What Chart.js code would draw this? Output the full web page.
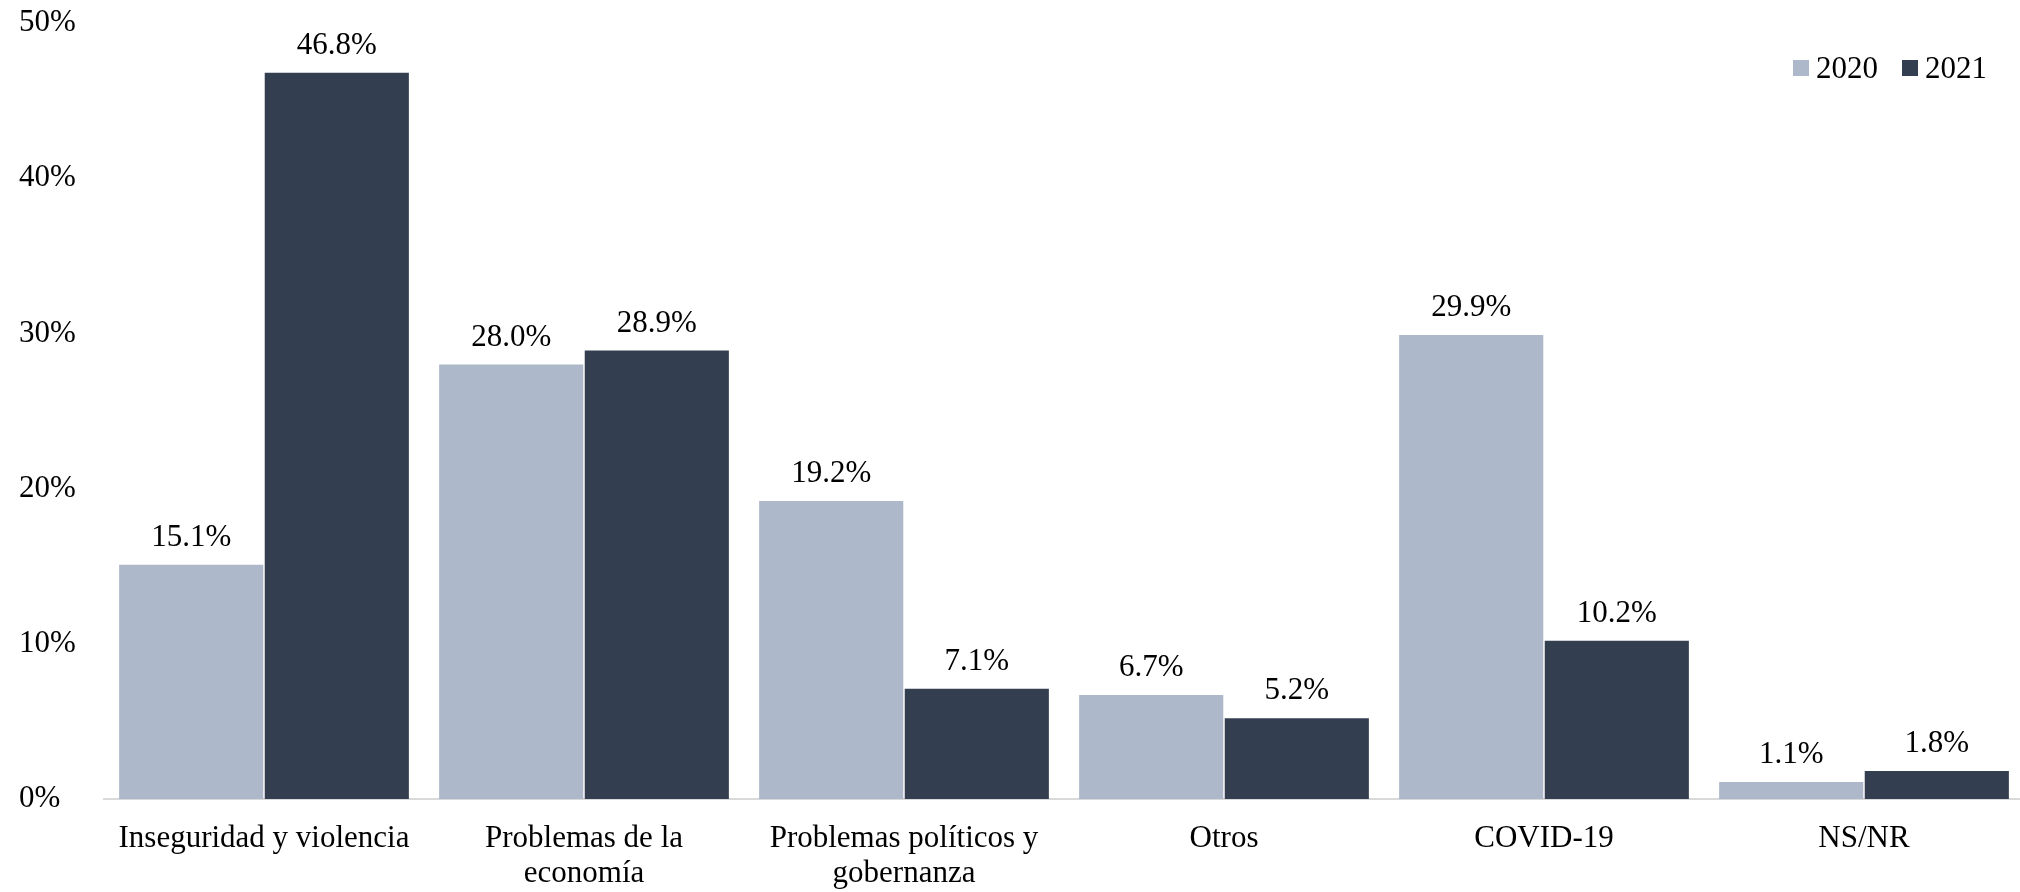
<!DOCTYPE html>
<html lang="es">
<head>
    <meta charset="UTF-8">
    <title>Problemas principales 2020-2021</title>
    <script src="https://cdn.jsdelivr.net/npm/chart.js"></script>
    <style>
        html, body { margin: 0; padding: 0; background: #fff; overflow: hidden; }
        #wrap { position: relative; width: 2020px; height: 892px; overflow: hidden; }
        #legend {
            position: absolute; top: 50px; left: 1793px;
            font-family: 'Liberation Serif', serif; font-size: 31px; color: #000;
            display: flex; align-items: center;
        }
        #legend span.box { display: inline-block; width: 16px; height: 16px; margin-right: 7px; }
        #legend span.item { display: flex; align-items: center; margin-right: 24px; }
    </style>
</head>
<body>
<div id="wrap">
    <canvas id="myChart" width="2024" height="892"></canvas>
    <div id="legend"></div>
</div>
<script>
    const categories = [
        'Inseguridad y violencia',
        ['Problemas de la', 'economía'],
        ['Problemas políticos y', 'gobernanza'],
        'Otros',
        'COVID-19',
        'NS/NR'
    ];
    const seriesNames = ['2020', '2021'];
    const values2020 = [15.1, 28.0, 19.2, 6.7, 29.9, 1.1];
    const values2021 = [46.8, 28.9, 7.1, 5.2, 10.2, 1.8];
    const colors = ['#adb9ca', '#333f50'];

    const FONT = 'Liberation Serif';

    // draws the value above every bar
    const barLabels = {
        id: 'barLabels',
        afterDatasetsDraw(chart) {
            const ctx = chart.ctx;
            ctx.save();
            ctx.font = '31px "' + FONT + '"';
            ctx.fillStyle = '#000';
            ctx.textAlign = 'center';
            ctx.textBaseline = 'middle';
            chart.data.datasets.forEach((ds, i) => {
                chart.getDatasetMeta(i).data.forEach((bar, j) => {
                    ctx.fillText(ds.data[j].toFixed(1) + '%', bar.x, bar.y - 27);
                });
            });
            ctx.restore();
        }
    };

    const ctx = document.getElementById('myChart').getContext('2d');
    const myChart = new Chart(ctx, {
        type: 'bar',
        data: {
            labels: categories,
            datasets: [
                { label: seriesNames[0], data: values2020, backgroundColor: colors[0] },
                { label: seriesNames[1], data: values2021, backgroundColor: colors[1] }
            ]
        },
        options: {
            responsive: false,
            animation: false,
            layout: { padding: { left: 19, top: 23, right: 0, bottom: 0 } },
            categoryPercentage: 0.91,
            barPercentage: 0.99,
            plugins: {
                legend: { display: false },
                tooltip: { enabled: false }
            },
            scales: {
                x: {
                    grid: { display: false, drawTicks: false },
                    border: { display: true, color: '#d9d9d9', width: 2 },
                    ticks: {
                        color: '#000',
                        font: { family: FONT, size: 31, lineHeight: 1.13 },
                        padding: 22,
                        maxRotation: 0,
                        autoSkip: false
                    },
                    afterFit: (scale) => { scale.height = 93; }
                },
                y: {
                    min: 0,
                    max: 50,
                    grid: { display: false, drawTicks: false },
                    border: { display: false },
                    ticks: {
                        stepSize: 10,
                        color: '#000',
                        crossAlign: 'far',
                        font: { family: FONT, size: 31 },
                        callback: (v) => v + '%'
                    },
                    afterFit: (scale) => { scale.width = 85; }
                }
            }
        },
        plugins: [barLabels]
    });

    const legend = document.getElementById('legend');
    seriesNames.forEach((name, i) => {
        const item = document.createElement('span');
        item.className = 'item';
        const box = document.createElement('span');
        box.className = 'box';
        box.style.background = colors[i];
        item.appendChild(box);
        item.appendChild(document.createTextNode(name));
        legend.appendChild(item);
    });
</script>
</body>
</html>
